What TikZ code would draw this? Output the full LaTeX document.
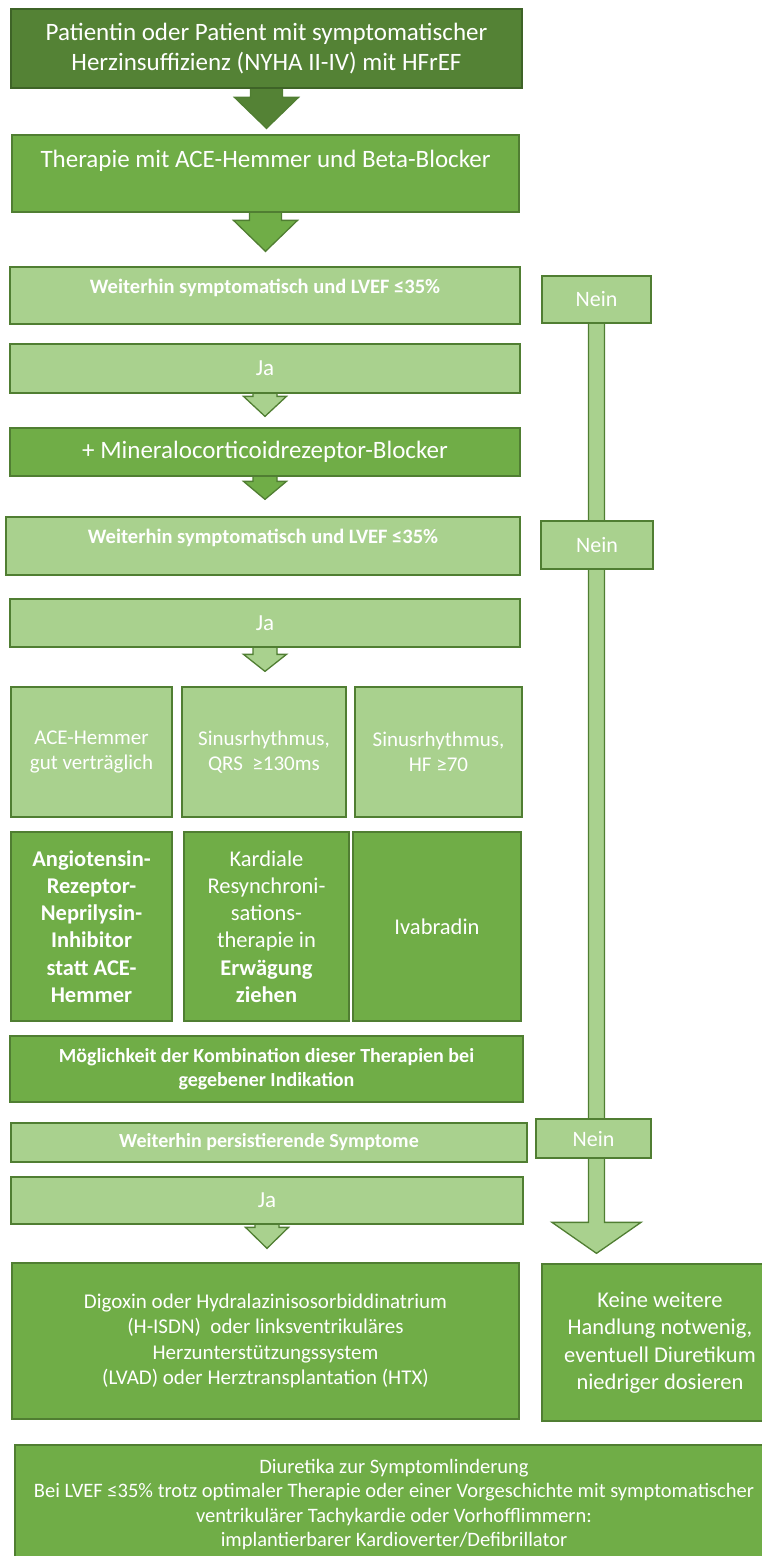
\documentclass[tikz,border=0pt]{standalone}
\usepackage{fontspec}
\setmainfont{Carlito}
\usetikzlibrary{calc,backgrounds}
\definecolor{boxdark}{HTML}{548235}
\definecolor{boxmid}{HTML}{70AD47}
\definecolor{boxlight}{HTML}{A9D18E}
\definecolor{edgegreen}{HTML}{507E32}
\definecolor{edgedark}{HTML}{3E6327}

\newcommand{\fsz}[2]{\fontsize{#1}{#2}\selectfont}
% block arrow: from, to, fill, gap, shaft half width, head half width, head length
\newcommand{\blockarr}[7]{%
  \path (#1.south) coordinate (ba) (#1.south |- #2.north) coordinate (bt);
  \path ($(bt)+(0,-#4)$) coordinate (tip) ($(bt)+(0,-#4-#7)$) coordinate (hb);
  \draw[arr, fill=#3] ($(ba)+(-#5,-3)$) -- ($(hb)+(-#5,0)$) -- ($(hb)+(-#6,0)$) -- (tip)
    -- ($(hb)+(#6,0)$) -- ($(hb)+(#5,0)$) -- ($(ba)+(#5,-3)$) -- cycle;
}

\begin{document}
\begin{tikzpicture}[
  x=1pt, y=-1pt,
  box/.style={draw=edgegreen, line width=1.3pt, text=white, align=center, inner sep=2pt},
  dark/.style={box, fill=boxdark, draw=edgedark},
  mid/.style={box, fill=boxmid},
  light/.style={box, fill=boxlight},
  arr/.style={draw=edgegreen, line width=1.3pt, line join=miter},
]
\useasboundingbox (0,0) rectangle (762,1556);
\clip (0,0) rectangle (762,1556);

% ---- main column ----
\node[dark, minimum width=511pt, minimum height=79pt, font=\fsz{25}{30}] (pat) at (266.5,48.5)
  {Patientin oder Patient mit symptomatischer\\Herzinsuffizienz (NYHA II-IV) mit HFrEF};
\node[mid, minimum width=507pt, minimum height=77pt, font=\fsz{25}{30}] (acebb) at (265.5,173.5)
  {Therapie mit ACE-Hemmer und Beta-Blocker\\\mbox{}};
\node[light, minimum width=510pt, minimum height=57pt, font=\bfseries\fsz{20.5}{25},
  text height=14pt, text depth=19pt] (lvef1) at (265,295.5) {Weiterhin symptomatisch und LVEF ≤35\%};
\node[light, minimum width=510pt, minimum height=49pt, font=\fsz{23}{28}] (ja1) at (265,368.5) {Ja};
\node[mid, minimum width=510pt, minimum height=48pt, font=\fsz{25}{30}] (mra) at (265,452)
  {+ Mineralocorticoidrezeptor-Blocker};
\node[light, minimum width=514pt, minimum height=58pt, font=\bfseries\fsz{20.5}{25},
  text height=14pt, text depth=19pt] (lvef2) at (263,546) {Weiterhin symptomatisch und LVEF ≤35\%};
\node[light, minimum width=510pt, minimum height=48pt, font=\fsz{23}{28}] (ja2) at (265,623) {Ja};

% ---- conditions ----
\node[light, minimum width=161pt, minimum height=130pt, font=\fsz{21}{24.5}] (cond1) at (91.5,752)
  {ACE-Hemmer\\gut verträglich};
\node[light, minimum width=164pt, minimum height=130pt, font=\fsz{21}{24.5}] (cond2) at (264,752)
  {Sinusrhythmus,\\QRS~ ≥130ms};
\node[light, minimum width=167pt, minimum height=130pt, font=\fsz{21}{24.5}] (cond3) at (438.5,752)
  {Sinusrhythmus,\\HF ≥70};

% ---- therapies ----
\node[mid, minimum width=161pt, minimum height=189pt, font=\bfseries\fsz{22.5}{27.2}] (arni) at (91.5,926.5)
  {Angiotensin-\\Rezeptor-\\Neprilysin-\\Inhibitor\\statt ACE-\\Hemmer};
\node[mid, minimum width=165pt, minimum height=189pt, font=\fsz{22.5}{27.2}] (crt) at (266.5,926.5)
  {Kardiale\\Resynchroni-\\sations-\\therapie in\\\textbf{Erwägung}\\\textbf{ziehen}};
\node[mid, minimum width=168pt, minimum height=189pt, font=\fsz{22.5}{27.2}] (ivab) at (437,926.5) {Ivabradin};
\node[mid, minimum width=513pt, minimum height=66pt, font=\bfseries\fsz{20}{24}] (komb) at (266.5,1069)
  {Möglichkeit der Kombination dieser Therapien bei\\gegebener Indikation};

% ---- last step ----
\node[light, minimum width=516pt, minimum height=39pt, font=\bfseries\fsz{20}{24}] (persist) at (269,1142.5)
  {Weiterhin persistierende Symptome};
\node[light, minimum width=512pt, minimum height=47pt, font=\fsz{23}{28}] (ja3) at (267,1200.5) {Ja};
\node[mid, minimum width=507pt, minimum height=156pt, font=\fsz{21}{25.5}] (digox) at (265.5,1341)
  {Digoxin oder Hydralazinisosorbiddinatrium\\(H-ISDN)~ oder linksventrikuläres\\Herzunterstützungssystem\\(LVAD) oder Herztransplantation (HTX)};
\node[mid, minimum width=236pt, minimum height=157pt, font=\fsz{22.5}{27.5}] (keine) at (660,1342.5)
  {Keine weitere\\Handlung notwenig,\\eventuell Diuretikum\\niedriger dosieren};
\node[mid, minimum width=758pt, minimum height=140pt, font=\fsz{20.5}{24.5}] (diur) at (394,1515)
  {Diuretika zur Symptomlinderung\\Bei LVEF ≤35\% trotz optimaler Therapie oder einer Vorgeschichte mit symptomatischer\\ventrikulärer Tachykardie oder Vorhofflimmern:\\implantierbarer Kardioverter/Defibrillator\\\mbox{}};

% ---- Nein column ----
\node[light, minimum width=109pt, minimum height=47pt, font=\fsz{22}{26}] (nein1) at (596.5,299.5) {Nein};
\node[light, minimum width=112pt, minimum height=48pt, font=\fsz{22}{26}] (nein2) at (597,545) {Nein};
\node[light, minimum width=115pt, minimum height=39pt, font=\fsz{22}{26}] (nein3) at (593.5,1138.5) {Nein};

% ---- block arrows ----
\begin{scope}[on background layer]
  \blockarr{pat}{acebb}{boxdark}{6}{16}{32}{31}
  \blockarr{acebb}{lvef1}{boxmid}{15}{16}{32}{31}
  \blockarr{ja1}{mra}{boxlight}{11}{12}{21.5}{20}
  \blockarr{mra}{lvef2}{boxmid}{17}{12}{21.5}{18}
  \blockarr{ja2}{cond2}{boxlight}{15}{12}{21.5}{17}
  \blockarr{ja3}{digox}{boxlight}{14}{12}{21.5}{21}
  \blockarr{nein1}{keine}{boxlight}{10}{8}{44.5}{31}
\end{scope}
\end{tikzpicture}
\end{document}
